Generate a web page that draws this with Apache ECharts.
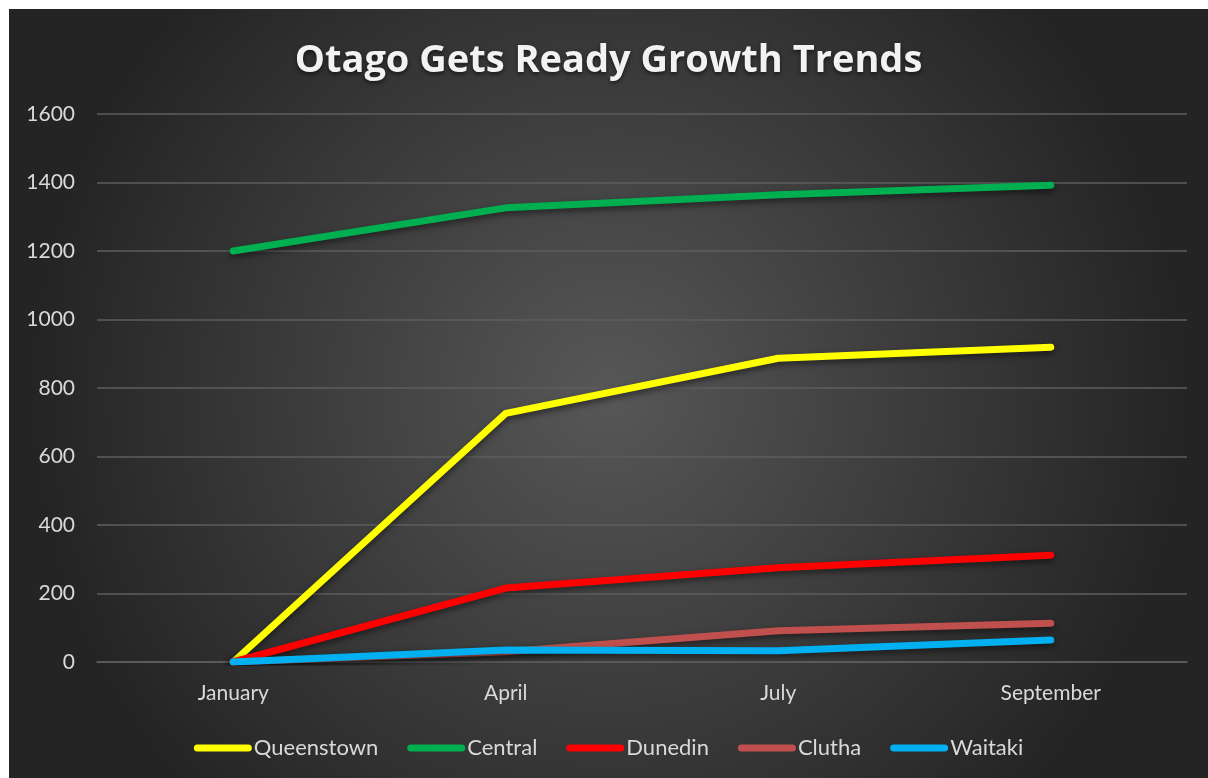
<!DOCTYPE html>
<html lang="en">
<head>
    <meta charset="UTF-8">
    <title>Otago Gets Ready Growth Trends</title>
    <script src="https://cdn.jsdelivr.net/npm/echarts@6/dist/echarts.min.js"></script>
    <style>
        html, body { margin: 0; padding: 0; background: #ffffff; }
        #line {
            position: absolute;
            left: 9px;
            top: 9px;
            width: 1199px;
            height: 769px;
        }
    </style>
</head>
<body>

<div id="line"></div>

<script>
    var months = ['January', 'April', 'July', 'September'];
    var queenstown = [0, 726, 887, 919];
    var central = [1200, 1326, 1364, 1392];
    var dunedin = [0, 216, 275, 312];
    var clutha = [0, 30, 91, 113];
    var waitaki = [0, 35, 33, 64];

    var pill = 'path://M3.5,0 H54.5 A3.5,3.5 0 0 1 54.5,7 H3.5 A3.5,3.5 0 0 1 3.5,0 Z';

    function makeLine(name, data, color) {
        return {
            name: name,
            type: 'line',
            data: data,
            symbol: 'none',
            lineStyle: {
                width: 7,
                color: color,
                cap: 'round',
                join: 'round',
                shadowColor: 'rgba(0,0,0,0.5)',
                shadowBlur: 6,
                shadowOffsetY: 3
            },
            itemStyle: { color: color },
            animation: false
        };
    }

    var myChart = echarts.init(document.getElementById('line'));

    var option = {
        backgroundColor: {
            type: 'radial',
            x: 0.5, y: 0.5, r: 0.75,
            colorStops: [
                { offset: 0, color: '#575757' },
                { offset: 1, color: '#242424' }
            ]
        },
        title: {
            text: 'Otago Gets Ready Growth Trends',
            left: 'center',
            top: 28,
            textStyle: {
                color: '#f2f2f2',
                fontFamily: 'Open Sans',
                fontWeight: 'bold',
                fontSize: 38,
                textShadowColor: 'rgba(0,0,0,0.6)',
                textShadowBlur: 4,
                textShadowOffsetY: 2
            }
        },
        legend: {
            bottom: 14,
            left: 'center',
            itemWidth: 58,
            itemHeight: 7,
            itemGap: 29,
            icon: pill,
            textStyle: {
                color: '#d9d9d9',
                fontFamily: 'Lato',
                fontSize: 22,
                padding: [0, 0, 0, -3]
            }
        },
        grid: {
            left: 88,
            right: 21,
            top: 105,
            bottom: 116
        },
        xAxis: {
            type: 'category',
            data: months,
            axisTick: { show: false },
            axisLine: { lineStyle: { color: '#5e5e5e', width: 1.5 } },
            axisLabel: {
                color: '#d9d9d9',
                fontFamily: 'Lato',
                fontSize: 21,
                margin: 21
            }
        },
        yAxis: {
            type: 'value',
            min: 0,
            max: 1600,
            interval: 200,
            axisLine: { show: false },
            axisTick: { show: false },
            splitLine: { lineStyle: { color: '#5e5e5e', width: 1.5 } },
            axisLabel: {
                color: '#d9d9d9',
                fontFamily: 'Lato',
                fontSize: 21,
                margin: 22,
                formatter: function (v) { return String(v); }
            }
        },
        series: [
            makeLine('Queenstown', queenstown, '#ffff00'),
            makeLine('Central', central, '#00b050'),
            makeLine('Dunedin', dunedin, '#ff0000'),
            makeLine('Clutha', clutha, '#c0504d'),
            makeLine('Waitaki', waitaki, '#00b0f0')
        ]
    };

    myChart.setOption(option);
</script>
</body>
</html>
